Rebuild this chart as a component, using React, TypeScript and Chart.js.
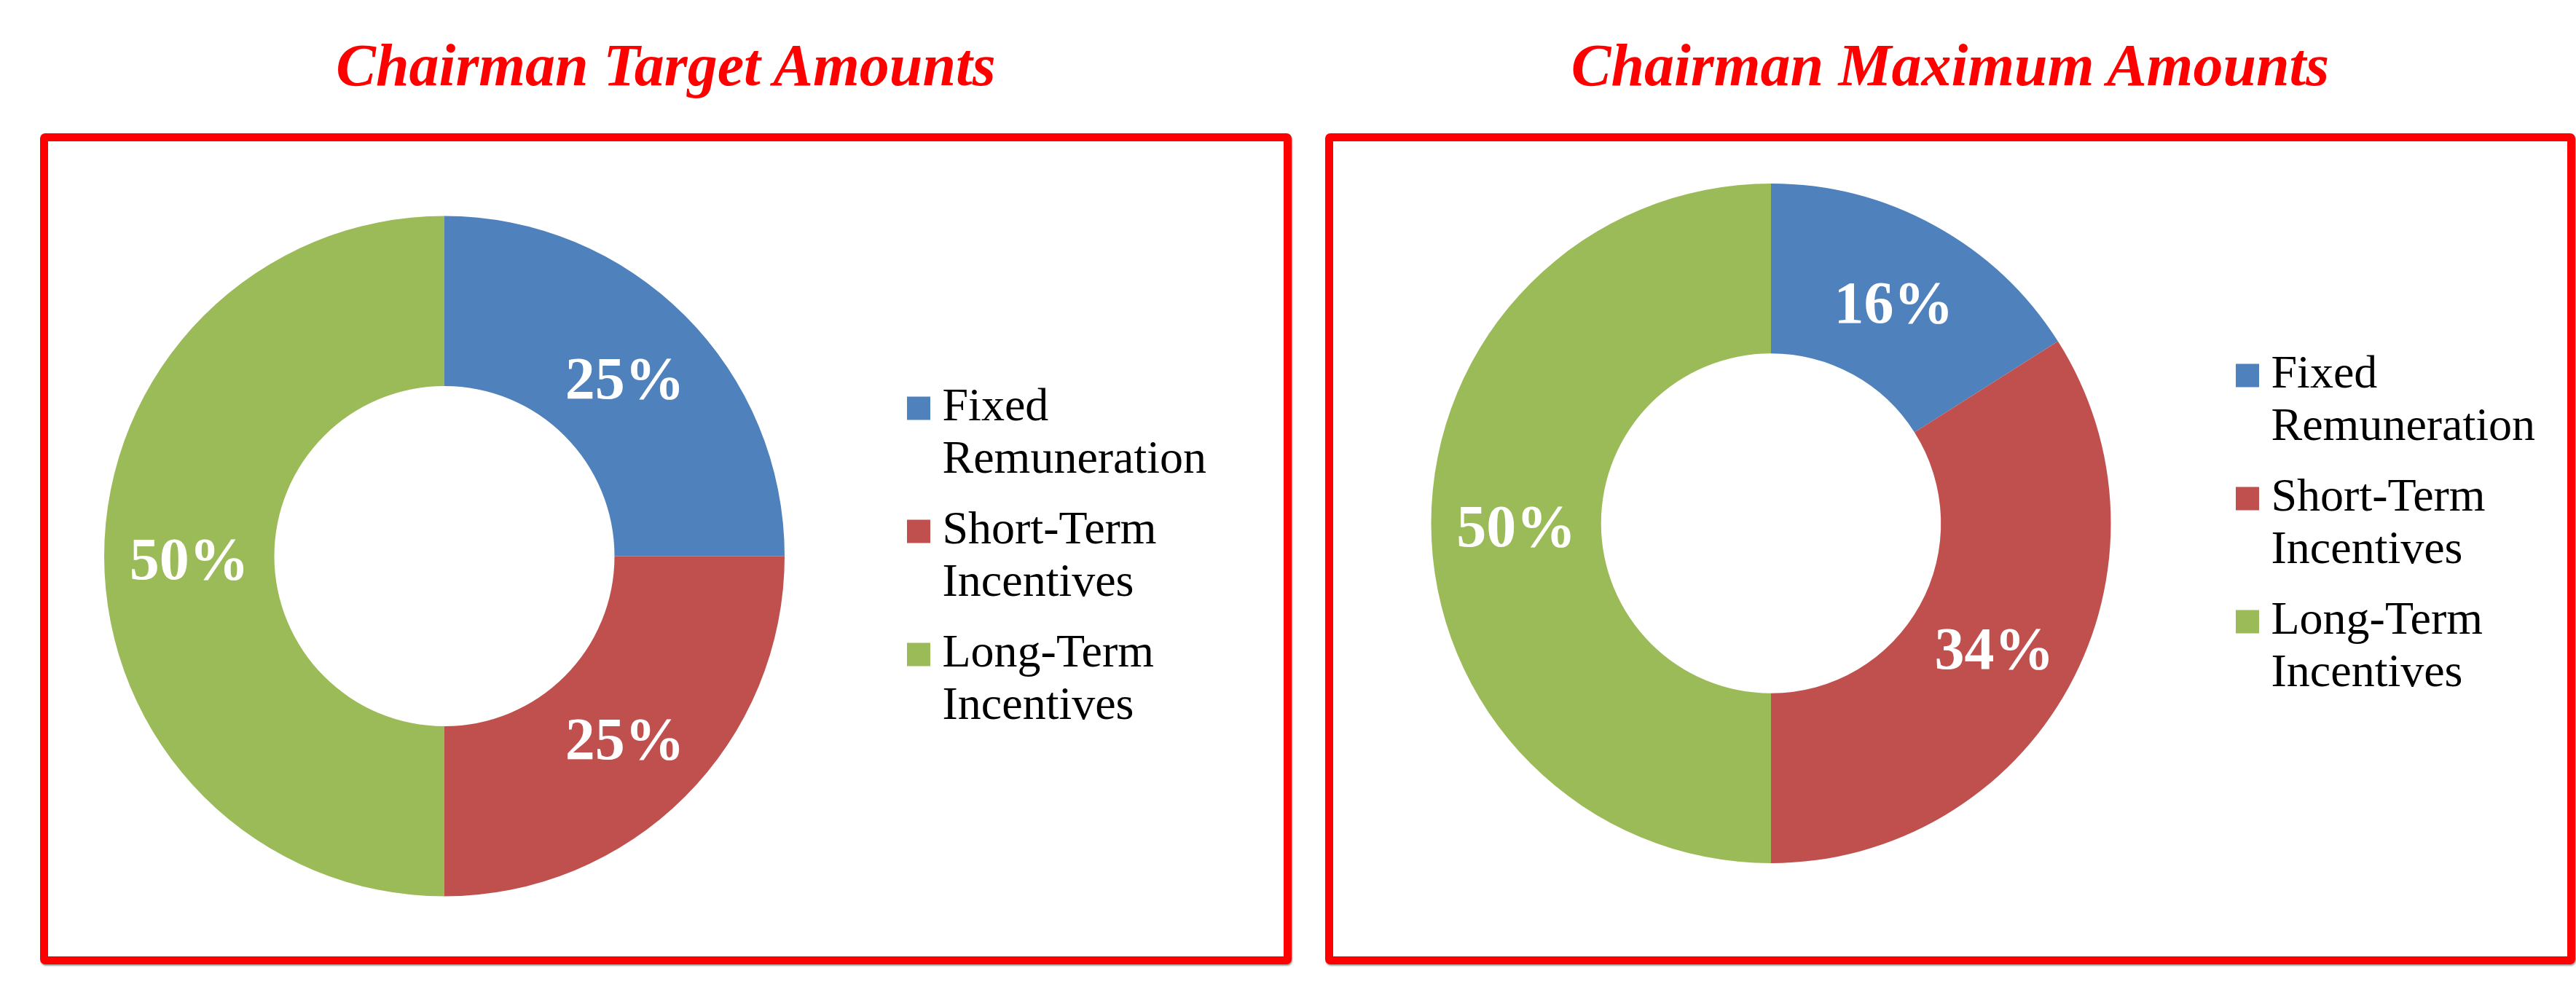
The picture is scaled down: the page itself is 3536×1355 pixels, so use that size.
import React, { useEffect, useRef } from "react";
import { Chart, registerables } from "chart.js";

Chart.register(...registerables);

// ---- data ----
const categories = ["Fixed Remuneration", "Short-Term Incentives", "Long-Term Incentives"];
const categoryLines = [
  ["Fixed", "Remuneration"],
  ["Short-Term", "Incentives"],
  ["Long-Term", "Incentives"],
];
const targetValues = [25, 25, 50];
const maximumValues = [16, 34, 50];
const sliceColors = ["#4F81BD", "#C0504D", "#9BBB59"];
const titleTarget = "Chairman Target Amounts";
const titleMaximum = "Chairman Maximum Amounts";

const SERIF = "'Liberation Serif', 'Times New Roman', serif";
const LEGEND_FONT_SIZE = 64;
const LEGEND_PADDING = 25;
const LEGEND_BOX_W = 1;

const sliceLabelPlugin = {
  id: "sliceLabels",
  afterDatasetsDraw(chart: any) {
    const { ctx } = chart;
    const meta = chart.getDatasetMeta(0);
    const data = chart.data.datasets[0].data as number[];
    ctx.save();
    ctx.font = `bold 82px ${SERIF}`;
    ctx.fillStyle = "#FFFFFF";
    ctx.textAlign = "center";
    ctx.textBaseline = "alphabetic";
    meta.data.forEach((arc: any, i: number) => {
      const p = arc.tooltipPosition(false);
      ctx.fillText(`${data[i]}%`, p.x, p.y + 31);
    });
    ctx.restore();
  },
};

type PanelProps = {
  title: string;
  values: number[];
  boxLeft: number;
  boxWidth: number;
  canvasLeft: number;
  canvasWidth: number;
  chartLeft: number; // page x of chart area left
  legendLeft: number; // page x of legend box (chart area right)
  padTop: number;
  padBottom: number;
};

const BOX_TOP = 183;
const BOX_HEIGHT = 1141;
const BORDER = 11;
const CANVAS_TOP = BOX_TOP + BORDER;
const CANVAS_HEIGHT = BOX_HEIGHT - 2 * BORDER;

function Panel({
  title,
  values,
  boxLeft,
  boxWidth,
  canvasLeft,
  canvasWidth,
  chartLeft,
  legendLeft,
  padTop,
  padBottom,
}: PanelProps) {
  const ref = useRef<HTMLCanvasElement | null>(null);

  useEffect(() => {
    if (!ref.current) return;
    // measure legend's natural width so the chart area lands where wanted
    const mctx = document.createElement("canvas").getContext("2d") as CanvasRenderingContext2D;
    mctx.font = `${LEGEND_FONT_SIZE}px ${SERIF}`;
    let longest = "";
    categoryLines.forEach((lines) => {
      const l = lines.reduce((a, b) => (a.length > b.length ? a : b));
      if (l.length > longest.length) longest = l;
    });
    const textW = mctx.measureText(longest).width;
    const legendW = LEGEND_PADDING + LEGEND_BOX_W + LEGEND_FONT_SIZE / 2 + textW + 10;
    const padLeft = chartLeft - canvasLeft;
    const padRight = canvasWidth - (legendLeft - canvasLeft) - legendW;

    const chart = new Chart(ref.current, {
      type: "doughnut",
      data: {
        labels: categories,
        datasets: [
          {
            data: values,
            backgroundColor: sliceColors,
            borderWidth: 0,
            hoverOffset: 0,
          },
        ],
      },
      options: {
        responsive: false,
        animation: false,
        cutout: "50%",
        layout: { padding: { left: padLeft, right: padRight, top: padTop, bottom: padBottom } },
        events: [],
        plugins: {
          tooltip: { enabled: false },
          title: { display: false },
          legend: {
            display: true,
            position: "right",
            align: "center",
            title: {
              display: true,
              text: " ",
              font: { family: SERIF, size: 10, lineHeight: 1.2 },
              padding: 0,
            },
            labels: {
              font: { family: SERIF, size: LEGEND_FONT_SIZE, lineHeight: 1.125 },
              color: "#000000",
              boxWidth: LEGEND_BOX_W,
              boxHeight: 32,
              usePointStyle: true,
              pointStyle: "rect",
              padding: LEGEND_PADDING,
              generateLabels: () =>
                categoryLines.map((lines, i) => ({
                  text: lines,
                  fillStyle: sliceColors[i],
                  strokeStyle: sliceColors[i],
                  lineWidth: 0,
                  fontColor: "#000000",
                  hidden: false,
                  index: i,
                  pointStyle: "rect",
                })) as any,
            },
          },
        },
      } as any,
      plugins: [sliceLabelPlugin],
    });
    return () => chart.destroy();
  }, []);

  return (
    <>
      <div
        style={{
          position: "absolute",
          left: boxLeft,
          width: boxWidth,
          top: 49,
          textAlign: "center",
          fontFamily: SERIF,
          fontWeight: "bold",
          fontStyle: "italic",
          fontSize: 82,
          lineHeight: "82px",
          color: "#FF0000",
          whiteSpace: "nowrap",
        }}
      >
        {title}
      </div>
      <div
        style={{
          position: "absolute",
          left: boxLeft,
          top: BOX_TOP,
          width: boxWidth,
          height: BOX_HEIGHT,
          boxSizing: "border-box",
          border: `${BORDER}px solid #FF0000`,
          borderRadius: 7,
          boxShadow: "1px 2px 2px rgba(0,0,0,0.35)",
          background: "#FFFFFF",
        }}
      />
      <canvas
        ref={ref}
        width={canvasWidth}
        height={CANVAS_HEIGHT}
        style={{
          position: "absolute",
          left: canvasLeft,
          top: CANVAS_TOP,
          width: canvasWidth,
          height: CANVAS_HEIGHT,
          display: "block",
        }}
      />
    </>
  );
}

export default function App() {
  return (
    <div
      style={{
        position: "absolute",
        left: 0,
        top: 0,
        width: 3536,
        height: 1355,
        overflow: "hidden",
        background: "#FFFFFF",
      }}
    >
      <Panel
        title={titleTarget}
        values={targetValues}
        boxLeft={55}
        boxWidth={1718}
        canvasLeft={-40}
        canvasWidth={1760}
        chartLeft={-15.5}
        legendLeft={1235.5}
        padTop={102.5}
        padBottom={82.5}
      />
      <Panel
        title={titleMaximum}
        values={maximumValues}
        boxLeft={1819}
        boxWidth={1716}
        canvasLeft={1790}
        canvasWidth={1746}
        chartLeft={1802.5}
        legendLeft={3059.5}
        padTop={58}
        padBottom={128}
      />
    </div>
  );
}
